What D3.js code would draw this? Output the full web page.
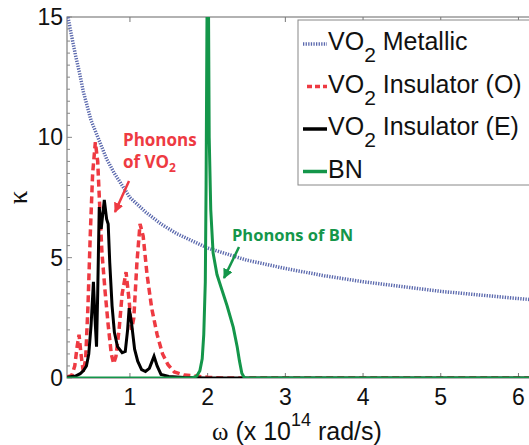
<!DOCTYPE html>
<html>
<head>
<meta charset="UTF-8">
<script src="https://cdnjs.cloudflare.com/ajax/libs/d3/7.8.5/d3.min.js"></script>
<style>
  body { margin: 0; background: #fff; }
  text { font-family: "Liberation Sans", Arial, sans-serif; }
  .tick-lbl { font-size: 23px; fill: #111; }
  .leg { font-size: 25px; fill: #111; }
  .note { font-family: "Open Sans", Lato, sans-serif; font-weight: 700; }
</style>
</head>
<body>
<div id="chart"></div>
<script>
// values (omega in 1e14 rad/s, kappa)
const metallicW = [0.19, 0.25, 0.3, 0.35, 0.4, 0.5, 0.6, 0.7, 0.8, 0.9, 1.0, 1.2, 1.4, 1.6, 1.8, 2.0, 2.5, 3.0, 3.5, 4.0, 4.5, 5.0, 5.5, 6.0, 6.2];
const metallicK = [15.2, 14.2, 13.4, 12.7, 11.9, 10.7, 9.9, 9.1, 8.5, 8.0, 7.5, 6.9, 6.4, 6.0, 5.7, 5.4, 4.9, 4.55, 4.25, 4.0, 3.8, 3.6, 3.45, 3.3, 3.25];

const insOW = [0.19, 0.25, 0.29, 0.32, 0.345, 0.37, 0.4, 0.43, 0.46, 0.49, 0.52, 0.555, 0.585, 0.61, 0.64, 0.68, 0.72, 0.76, 0.79, 0.82, 0.86, 0.9, 0.95, 0.99, 1.02, 1.05, 1.09, 1.13, 1.17, 1.22, 1.28, 1.35, 1.42, 1.49, 1.57, 1.7, 1.85, 2.0, 2.2, 6.2];
const insOK = [0.05, 0.1, 0.5, 1.3, 1.8, 1.0, 0.25, 0.8, 3.0, 6.0, 8.5, 9.8, 9.0, 7.2, 5.2, 3.6, 2.2, 1.0, 0.6, 0.9, 2.0, 3.5, 4.4, 3.2, 2.0, 2.5, 4.8, 6.4, 5.9, 4.3, 2.9, 1.8, 1.0, 0.55, 0.25, 0.12, 0.08, 0.03, 0, 0];

const insEW = [0.19, 0.3, 0.36, 0.4, 0.44, 0.47, 0.5, 0.53, 0.55, 0.57, 0.585, 0.605, 0.63, 0.67, 0.7, 0.72, 0.74, 0.77, 0.8, 0.84, 0.9, 0.94, 0.97, 0.99, 1.02, 1.06, 1.1, 1.15, 1.2, 1.25, 1.31, 1.35, 1.4, 1.5, 1.7, 2.0, 6.2];
const insEK = [0.03, 0.08, 0.18, 0.3, 0.5, 1.0, 2.2, 4.0, 2.5, 1.3, 3.5, 7.1, 6.2, 7.4, 6.6, 6.4, 4.8, 3.0, 1.9, 1.3, 1.05, 1.1, 2.0, 2.9, 2.3, 1.2, 0.7, 0.35, 0.27, 0.4, 0.9, 0.5, 0.15, 0.06, 0.02, 0, 0];

const bnW = [0.19, 1.8, 1.86, 1.9, 1.93, 1.95, 1.97, 1.98, 1.99, 2.0, 2.01, 2.02, 2.04, 2.07, 2.12, 2.18, 2.25, 2.33, 2.38, 2.41, 2.44, 2.47, 2.5, 6.2];
const bnK = [0, 0, 0.08, 0.3, 0.8, 1.8, 4, 8, 14, 20, 16, 10, 7, 5.2, 4.3, 3.7, 3.0, 2.1, 1.3, 0.7, 0.2, 0.02, 0, 0];

const xTicks = [1, 2, 3, 4, 5, 6];
const yTicks = [0, 5, 10, 15];

const W = 529, H = 445;
const pL = 67, pR = 534, pT = 17, pB = 378;

const svg = d3.select("#chart").append("svg")
  .attr("width", W).attr("height", H);

const x = d3.scaleLinear().domain([0.19, 6.2]).range([pL, pR]);
const y = d3.scaleLinear().domain([0, 15]).range([pB, pT]);

svg.append("clipPath").attr("id", "clip")
  .append("rect").attr("x", pL).attr("y", pT)
  .attr("width", pR - pL).attr("height", pB - pT);

// frame
svg.append("rect").attr("x", pL).attr("y", pT)
  .attr("width", pR - pL).attr("height", pB - pT)
  .attr("fill", "none").attr("stroke", "#666").attr("stroke-width", 1);

// minor / major y ticks
const minorY = d3.range(0, 15.01, 0.5);
svg.selectAll(".ymin").data(minorY).enter().append("line")
  .attr("x1", pL).attr("x2", d => pL + (d % 5 === 0 ? 5 : 3))
  .attr("y1", d => y(d)).attr("y2", d => y(d))
  .attr("stroke", "#888").attr("stroke-width", 1);

svg.selectAll(".xtk").data(xTicks).enter().append("line")
  .attr("x1", d => x(d)).attr("x2", d => x(d))
  .attr("y1", pB).attr("y2", pB - 5)
  .attr("stroke", "#777");
svg.selectAll(".xtkt").data(xTicks).enter().append("line")
  .attr("x1", d => x(d)).attr("x2", d => x(d))
  .attr("y1", pT).attr("y2", pT + 5)
  .attr("stroke", "#777");

// tick labels
svg.selectAll(".ylbl").data(yTicks).enter().append("text")
  .attr("class", "tick-lbl")
  .attr("x", pL - 4).attr("y", d => y(d) + 8)
  .attr("text-anchor", "end")
  .text(d => d);

svg.selectAll(".xlbl").data(xTicks).enter().append("text")
  .attr("class", "tick-lbl")
  .attr("x", d => x(d)).attr("y", 405)
  .attr("text-anchor", "middle")
  .text(d => d);

// axis titles
const xt = svg.append("text").attr("x", 212).attr("y", 440)
  .style("font-size", "25px").attr("fill", "#111");
xt.append("tspan").style("font-family", "'Liberation Serif', 'DejaVu Serif', serif").text("ω");
xt.append("tspan").text(" (x 10");
xt.append("tspan").attr("dy", -14).style("font-size", "18px").text("14");
xt.append("tspan").attr("dy", 14).text(" rad/s)");

svg.append("text")
  .attr("transform", "translate(27," + ((pT + pB) / 2) + ") rotate(-90)")
  .attr("text-anchor", "middle")
  .style("font-family", "'Liberation Serif', 'DejaVu Serif', serif")
  .style("font-size", "27px").attr("fill", "#111")
  .text("κ");

// curves
const line = d3.line().x(d => x(d[0])).y(d => y(d[1]));
const g = svg.append("g").attr("clip-path", "url(#clip)");

g.append("path").datum(d3.zip(metallicW, metallicK))
  .attr("d", line).attr("fill", "none")
  .attr("stroke", "#5a68ad").attr("stroke-width", 3.5)
  .attr("stroke-dasharray", "1.3,1.3");

g.append("path").datum(d3.zip(insOW, insOK))
  .attr("d", line).attr("fill", "none")
  .attr("stroke", "#ee3a42").attr("stroke-width", 3.5)
  .attr("stroke-dasharray", "7,4");

g.append("path").datum(d3.zip(insEW, insEK))
  .attr("d", line).attr("fill", "none")
  .attr("stroke", "#000").attr("stroke-width", 3);

g.append("path").datum(d3.zip(bnW, bnK))
  .attr("d", line).attr("fill", "none")
  .attr("stroke", "#14964a").attr("stroke-width", 3);

// annotations
svg.append("defs").html(
  '<marker id="ar" viewBox="0 0 10 10" refX="9" refY="5" markerWidth="4" markerHeight="4" orient="auto"><path d="M0,0L10,5L0,10z" fill="#ee3a42"/></marker>' +
  '<marker id="ag" viewBox="0 0 10 10" refX="9" refY="5" markerWidth="4" markerHeight="4" orient="auto"><path d="M0,0L10,5L0,10z" fill="#14964a"/></marker>');

svg.append("text").attr("class", "note").attr("x", 123).attr("y", 146)
  .style("font-size", "17px").attr("fill", "#ee3a42").text("Phonons");
const vo = svg.append("text").attr("class", "note").attr("x", 123).attr("y", 168)
  .style("font-size", "17px").attr("fill", "#ee3a42");
vo.append("tspan").text("of VO");
vo.append("tspan").attr("dy", 4).style("font-size", "12px").text("2");

svg.append("line").attr("x1", 129).attr("y1", 181).attr("x2", 115).attr("y2", 212)
  .attr("stroke", "#ee3a42").attr("stroke-width", 2.5).attr("marker-end", "url(#ar)");

svg.append("text").attr("class", "note").attr("x", 232).attr("y", 241)
  .style("font-size", "16.5px").attr("fill", "#14964a").text("Phonons of BN");
svg.append("line").attr("x1", 239).attr("y1", 247).attr("x2", 224).attr("y2", 278)
  .attr("stroke", "#14964a").attr("stroke-width", 2.5).attr("marker-end", "url(#ag)");

// legend
const legNames = ["Metallic", "Insulator (O)", "Insulator (E)", "BN"];
const legColors = ["#5a68ad", "#ee3a42", "#000", "#14964a"];
const legDash = ["1.3,1.3", "5,3", null, null];
const leg = svg.append("g");
leg.append("rect").attr("x", 298).attr("y", 20).attr("width", 250).attr("height", 165)
  .attr("fill", "#fff").attr("stroke", "#888").attr("stroke-width", 1);
legNames.forEach((n, i) => {
  const cy = 41 + i * 42.5;
  leg.append("line").attr("x1", i === 1 ? 307 : 303).attr("x2", 327)
    .attr("y1", cy + 3).attr("y2", cy + 3)
    .attr("stroke", legColors[i]).attr("stroke-width", 3.5)
    .attr("stroke-dasharray", legDash[i]);
  const t = leg.append("text").attr("class", "leg").attr("x", 328).attr("y", cy + 9);
  if (i < 3) {
    t.append("tspan").text("VO");
    t.append("tspan").attr("dy", 12).style("font-size", "21px").text("2");
    t.append("tspan").attr("dy", -12).text(" " + n);
  } else {
    t.text(n);
  }
});
</script>
</body>
</html>
